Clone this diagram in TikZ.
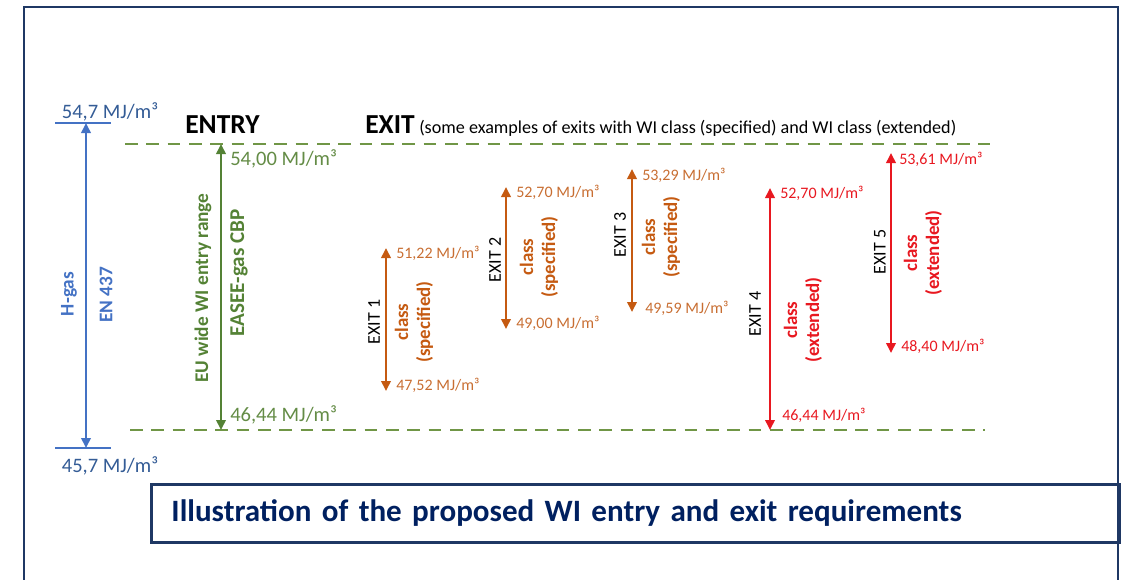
\documentclass[tikz,border=0pt]{standalone}
\usepackage{fontspec}
\setmainfont{Carlito}
\usetikzlibrary{arrows.meta}
\definecolor{navy}{RGB}{31,56,100}
\definecolor{titleblue}{RGB}{0,32,96}
\definecolor{hblue}{RGB}{68,114,196}
\definecolor{hbluetxt}{RGB}{52,92,150}
\definecolor{egreen}{RGB}{84,130,53}
\definecolor{egreentxt}{RGB}{100,140,70}
\definecolor{dgreen}{RGB}{112,150,70}
\definecolor{xorange}{RGB}{197,90,17}
\definecolor{xorangetxt}{RGB}{200,110,50}
\definecolor{xred}{RGB}{232,24,32}
\tikzset{
  frame/.style={draw=navy,line width=2.2pt},
  levelline/.style={draw=dgreen,line width=2pt,dash pattern=on 9.5pt off 6.5pt},
  rangearrow/.style={line width=2.2pt,{Triangle[length=7.5pt,width=7pt]}-{Triangle[length=7.5pt,width=7pt]}},
  bigval/.style={font=\fontsize{15.4}{17}\selectfont,inner sep=0pt},
  smallval/.style={font=\fontsize{12}{14}\selectfont,inner sep=0pt,anchor=west},
  vlabel/.style={rotate=90,inner sep=0pt,font=\fontsize{14.5}{16}\selectfont\bfseries},
  exitlabel/.style={rotate=90,inner sep=0pt,font=\fontsize{13.5}{15}\selectfont},
  classlabel/.style={rotate=90,inner sep=0pt,align=center,font=\fontsize{14.2}{16.5}\selectfont\bfseries},
  heading/.style={inner sep=0pt,anchor=base west,font=\fontsize{20.6}{22}\selectfont\bfseries},
}
\begin{document}
\begin{tikzpicture}[x=0.75pt,y=-0.75pt]
\useasboundingbox (0,0) rectangle (1125,579);
% outer frame
\coordinate (fBL) at (24,585);
\coordinate (fTL) at (24,7);
\coordinate (fTR) at (1118,7);
\coordinate (fBR) at (1118,585);
\draw[frame] (fBL) -- (fTL) -- (fTR) -- (fBR);
% title box
\node[frame,anchor=north west,minimum width=726pt,minimum height=43.5pt,
      text width=696pt,inner xsep=14pt,align=left,text=titleblue,
      font=\fontsize{23.3}{27}\selectfont\bfseries] (title) at (150,483)
      {Illustration of the proposed WI entry and exit requirements};
% dashed levels
\coordinate (topL) at (125,144); \coordinate (topR) at (990,144);
\coordinate (botL) at (130,430); \coordinate (botR) at (985,430);
\draw[levelline] (topL) -- (topR);
\draw[levelline] (botL) -- (botR);
% headings
\node[heading] (entry) at (185,133) {ENTRY};
\node[heading] (exit) at (365,133) {EXIT};
\node[inner sep=0pt,anchor=base west,font=\fontsize{13.6}{15}\selectfont] (exitsub) at (exit.base east)
  {\hspace{3pt}(some examples of exits with WI class (specified) and WI class (extended)};
% H-gas
\coordinate (hT) at (86,123); \coordinate (hB) at (86,448);
\coordinate (hTl) at (55,123); \coordinate (hTr) at (111,123);
\coordinate (hBl) at (55,448); \coordinate (hBr) at (111,448);
\draw[draw=hblue,line width=2pt] (hTl) -- (hTr);
\draw[draw=hblue,line width=2pt] (hBl) -- (hBr);
\draw[rangearrow,draw=hblue,fill=hblue] (hT) -- (hB);
\node[bigval,text=hbluetxt] (h1) at (110,112) {54,7 MJ/m³};
\node[bigval,text=hbluetxt] (h2) at (110,466) {45,7 MJ/m³};
\node[vlabel,text=hblue] (hgas) at (69,294) {H-gas};
\node[vlabel,text=hblue] (en) at (106,295) {EN 437};
% entry range
\coordinate (eT) at (221,144); \coordinate (eB) at (221,430);
\draw[rangearrow,draw=egreen,fill=egreen] (eT) -- (eB);
\node[bigval,anchor=west,text=egreentxt] (e1) at (230,159) {54,00 MJ/m³};
\node[bigval,anchor=west,text=egreentxt] (e2) at (230,415) {46,44 MJ/m³};
\node[vlabel,text=egreen] (eu) at (203,288) {EU wide WI entry range};
\node[vlabel,text=egreen,font=\fontsize{15.8}{17}\selectfont\bfseries] (cbp) at (239,273) {EASEE-gas CBP};
% EXIT 1
\coordinate (x1T) at (386,248); \coordinate (x1B) at (386,391);
\draw[rangearrow,draw=xorange,fill=xorange] (x1T) -- (x1B);
\node[smallval,text=xorangetxt] (x1a) at (396,253) {51,22 MJ/m³};
\node[smallval,text=xorangetxt] (x1b) at (396,385) {47,52 MJ/m³};
\node[exitlabel] (x1n) at (374,322) {EXIT 1};
\node[classlabel,text=xorange] (x1c) at (414,322) {class\\(specified)};
% EXIT 2
\coordinate (x2T) at (506,187); \coordinate (x2B) at (506,329);
\draw[rangearrow,draw=xorange,fill=xorange] (x2T) -- (x2B);
\node[smallval,text=xorangetxt] (x2a) at (516,192) {52,70 MJ/m³};
\node[smallval,text=xorangetxt] (x2b) at (516,323) {49,00 MJ/m³};
\node[exitlabel] (x2n) at (495,260) {EXIT 2};
\node[classlabel,text=xorange] (x2c) at (539,257) {class\\(specified)};
% EXIT 3
\coordinate (x3T) at (632,169); \coordinate (x3B) at (632,312);
\draw[rangearrow,draw=xorange,fill=xorange] (x3T) -- (x3B);
\node[smallval,text=xorangetxt] (x3a) at (642,175) {53,29 MJ/m³};
\node[smallval,text=xorangetxt] (x3b) at (645,308) {49,59 MJ/m³};
\node[exitlabel] (x3n) at (620,235) {EXIT 3};
\node[classlabel,text=xorange] (x3c) at (661,237) {class\\(specified)};
% EXIT 4
\coordinate (x4T) at (770,188); \coordinate (x4B) at (770,430);
\draw[rangearrow,draw=xred,fill=xred] (x4T) -- (x4B);
\node[smallval,text=xred] (x4a) at (780,193) {52,70 MJ/m³};
\node[smallval,text=xred] (x4b) at (782,415) {46,44 MJ/m³};
\node[exitlabel] (x4n) at (755,314) {EXIT 4};
\node[classlabel,text=xred] (x4c) at (803,320) {class\\(extended)};
% EXIT 5
\coordinate (x5T) at (891,153); \coordinate (x5B) at (891,353);
\draw[rangearrow,draw=xred,fill=xred] (x5T) -- (x5B);
\node[smallval,text=xred] (x5a) at (899,159) {53,61 MJ/m³};
\node[smallval,text=xred] (x5b) at (901,346) {48,40 MJ/m³};
\node[exitlabel] (x5n) at (880,252) {EXIT 5};
\node[classlabel,text=xred] (x5c) at (923,253) {class\\(extended)};
\end{tikzpicture}
\end{document}
